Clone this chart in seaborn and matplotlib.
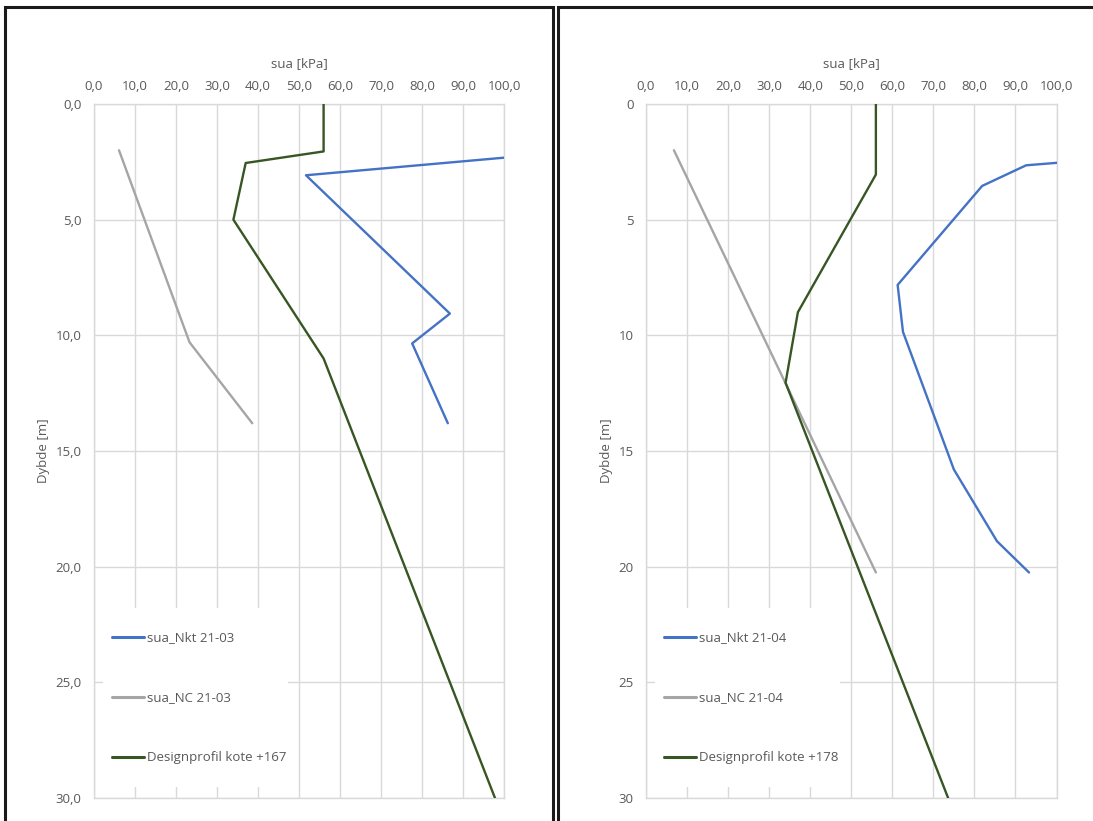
import matplotlib
matplotlib.use("Agg")
import matplotlib.pyplot as plt
from matplotlib.patches import Rectangle
from matplotlib.ticker import FuncFormatter, MultipleLocator
import seaborn as sns
import pandas as pd

# ---- data: left chart (21-03) ----
nkt_0321_su = [120.4, 51.7, 86.8, 77.6, 86.3]
nkt_0321_z = [2.0, 3.08, 9.06, 10.35, 13.8]
nc_0321_su = [6.1, 23.3, 38.6]
nc_0321_z = [2.0, 10.3, 13.8]
dp_167_su = [56.0, 56.0, 37.0, 34.0, 56.0, 97.8]
dp_167_z = [0.0, 2.05, 2.55, 5.0, 11.0, 30.0]

# ---- data: right chart (21-04) ----
nkt_0421_su = [101.0, 92.6, 81.9, 61.3, 62.6, 75.0, 85.5, 93.3]
nkt_0421_z = [2.53, 2.65, 3.54, 7.82, 9.85, 15.8, 18.9, 20.25]
nc_0421_su = [6.8, 27.6, 56.0]
nc_0421_z = [2.0, 9.7, 20.25]
dp_178_su = [56.0, 56.0, 37.0, 34.0, 73.6]
dp_178_z = [0.0, 3.05, 9.0, 12.05, 30.0]

labels_left = ["sua_Nkt 21-03", "sua_NC 21-03", "Designprofil kote +167"]
labels_right = ["sua_Nkt 21-04", "sua_NC 21-04", "Designprofil kote +178"]
colors = ["#4472C4", "#A5A5A5", "#375623"]

sns.set_theme(style="white")
plt.rcParams["font.family"] = ["Open Sans", "DejaVu Sans"]

W, H = 1093, 821
fig = plt.figure(figsize=(W / 100, H / 100), dpi=100)
fig.patch.set_facecolor("white")

txt = "#595959"
grid = "#D9D9D9"


def build(ax, series, labels, yfmt):
    for (su, z), lab, col in zip(series, labels, colors):
        df = pd.DataFrame({"su": su, "z": z})
        sns.lineplot(data=df, x="su", y="z", sort=False, estimator=None,
                     color=col, lw=1.7, label=lab, ax=ax, zorder=3)
    ax.set_xlim(0, 100)
    ax.set_ylim(30, 0)
    ax.xaxis.set_major_locator(MultipleLocator(10))
    ax.yaxis.set_major_locator(MultipleLocator(5))
    ax.xaxis.set_major_formatter(FuncFormatter(lambda v, p: f"{v:.1f}".replace(".", ",")))
    ax.yaxis.set_major_formatter(FuncFormatter(yfmt))
    ax.xaxis.tick_top()
    ax.xaxis.set_label_position("top")
    ax.tick_params(axis="x", length=0, pad=8, labelsize=9.5, labelcolor=txt)
    ax.tick_params(axis="y", length=0, pad=9, labelsize=9.5, labelcolor=txt)
    ax.grid(True, color=grid, lw=1.0)
    ax.set_axisbelow(True)
    for s in ax.spines.values():
        s.set_color(grid)
        s.set_linewidth(1.0)
    ax.set_xlabel("sua [kPa]", color=txt, fontsize=9.5, labelpad=9)
    ax.set_ylabel("Dybde [m]", color=txt, fontsize=9.5, labelpad=4)
    # white legend area (covers gridlines like the Excel legend box)
    ax.add_patch(Rectangle((0.022, 0.016), 0.451, 0.258, transform=ax.transAxes,
                           facecolor="white", edgecolor="none", zorder=1.5))
    leg = ax.legend(loc="upper left", bbox_to_anchor=(0.044, 0.240),
                    frameon=False, fontsize=9.5,
                    labelspacing=3.55, handlelength=2.4, handletextpad=0.25,
                    borderpad=0, borderaxespad=0)
    for t in leg.get_texts():
        t.set_color(txt)
    for h in leg.get_lines():
        h.set_linewidth(2.2)


axL = fig.add_axes([94 / W, (H - 798) / H, 410 / W, 694 / H])
build(axL, [(nkt_0321_su, nkt_0321_z), (nc_0321_su, nc_0321_z), (dp_167_su, dp_167_z)],
      labels_left, lambda v, p: f"{v:.1f}".replace(".", ","))

axR = fig.add_axes([646 / W, (H - 798) / H, 410.5 / W, 694 / H])
build(axR, [(nkt_0421_su, nkt_0421_z), (nc_0421_su, nc_0421_z), (dp_178_su, dp_178_z)],
      labels_right, lambda v, p: f"{int(round(v))}")

# chart frames
for x0, x1 in [(5, 552.5), (557.5, 1100)]:
    r = Rectangle((x0 / W, -0.1), (x1 - x0) / W, 0.1 + (H - 7.5) / H,
                  transform=fig.transFigure, fill=False, lw=2.2, ec="#1a1a1a",
                  clip_on=False)
    fig.patches.append(r)

fig.savefig("out.png", dpi=100, facecolor="white")
